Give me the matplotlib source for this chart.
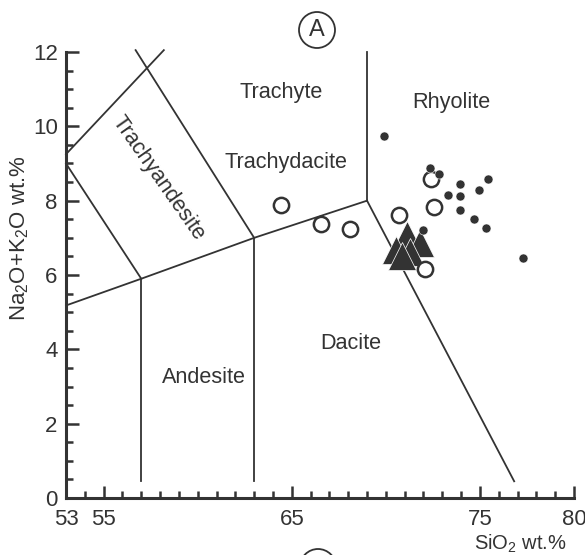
import matplotlib
matplotlib.use("Agg")
import matplotlib.pyplot as plt
from matplotlib.patches import Ellipse
from matplotlib.ticker import MultipleLocator, FixedLocator

plt.rcParams['font.family'] = ['Liberation Sans', 'DejaVu Sans']
plt.rcParams['mathtext.fontset'] = 'custom'
plt.rcParams['mathtext.rm'] = 'Liberation Sans'
plt.rcParams['mathtext.it'] = 'Liberation Sans:italic'

INK = '#333333'

# TAS field boundaries (SiO2, Na2O+K2O)
boundaries = [
    ([57, 57], [0.45, 5.9]),
    ([63, 63], [0.45, 7.0]),
    ([53, 57, 63, 69], [5.18, 5.9, 7.0, 8.0]),
    ([69, 76.82], [8.0, 0.45]),
    ([69, 69], [8.0, 12.0]),
    ([63, 56.7], [7.0, 12.05]),
    ([57, 53], [5.9, 9.0]),
    ([53, 58.2], [9.25, 12.05]),
]

# field names
field_names = ['Trachyte', 'Trachydacite', 'Rhyolite', 'Dacite', 'Andesite', 'Trachyandesite']
field_x = [64.45, 64.7, 73.5, 68.15, 60.35, 57.9]
field_y = [10.9, 9.03, 10.65, 4.17, 3.25, 8.6]
field_rot = [0, 0, 0, 0, 0, -55]

# samples
open_x = [64.42, 66.56, 68.07, 70.71, 72.54, 72.40, 72.10]
open_y = [7.88, 7.36, 7.25, 7.61, 7.83, 8.57, 6.17]

dot_x = [69.91, 72.33, 72.84, 73.96, 75.43, 74.97, 73.32, 73.96, 73.96, 74.67, 75.34, 71.95, 77.29]
dot_y = [9.73, 8.89, 8.73, 8.46, 8.58, 8.30, 8.15, 8.12, 7.74, 7.50, 7.27, 7.22, 6.47]

tri_x = [71.12, 71.79, 70.55, 71.30, 70.86]
tri_y = [7.08, 6.86, 6.68, 6.61, 6.52]

x_ticks_major = [53, 55, 65, 75, 80]

fig = plt.figure(figsize=(5.85, 5.55), dpi=100)
ax = fig.add_axes([66 / 585, 57 / 555, 508 / 585, 446 / 555])

for bx, by in boundaries:
    ax.plot(bx, by, color=INK, lw=1.3, clip_on=False, zorder=2)

for name, x, y, r in zip(field_names, field_x, field_y, field_rot):
    ax.text(x, y, name, ha='center', va='center', rotation=r,
            fontsize=15.6, color=INK, rotation_mode='anchor')

ax.plot(open_x, open_y, 'o', ms=11, mfc='white', mec=INK, mew=1.8, zorder=4)
ax.plot(dot_x, dot_y, 'o', ms=6.5, color=INK, mec='white', mew=0.4, zorder=5)
ax.plot(tri_x, tri_y, '^', ms=19.5, color=INK, mec='white', mew=0.5, zorder=3)

ax.set_xlim(53, 80)
ax.set_ylim(0, 12)
ax.spines['top'].set_visible(False)
ax.spines['right'].set_visible(False)
for s in ('left', 'bottom'):
    ax.spines[s].set_linewidth(2.2)
    ax.spines[s].set_color(INK)

ax.xaxis.set_major_locator(FixedLocator(x_ticks_major))
ax.xaxis.set_minor_locator(MultipleLocator(1))
ax.yaxis.set_major_locator(MultipleLocator(2))
ax.yaxis.set_minor_locator(MultipleLocator(0.5))
ax.tick_params(which='both', direction='in', color=INK, width=1.8,
               labelsize=16, labelcolor=INK)
ax.tick_params(which='major', length=9)
ax.tick_params(which='minor', length=5)
ax.tick_params(axis='x', pad=8)
ax.tick_params(axis='y', pad=6)

fig.text(20 / 585, 1 - 238 / 555, r'Na$_\mathrm{2}$O+K$_\mathrm{2}$O wt.%',
         rotation=90, ha='center', va='center', fontsize=16, color=INK)
fig.text(520 / 585, 1 - 544 / 555, r'SiO$_\mathrm{2}$ wt.%',
         ha='center', va='center', fontsize=14.5, color=INK)

# panel tags
fig.add_artist(Ellipse((317 / 585, 1 - 30 / 555), 36 / 585, 36 / 555,
                       transform=fig.transFigure, fc='none', ec=INK, lw=1.3))
fig.text(317 / 585, 1 - 30 / 555, 'A', ha='center', va='center',
         fontsize=17, color=INK)
fig.add_artist(Ellipse((318 / 585, 1 - 567 / 555), 36 / 585, 36 / 555,
                       transform=fig.transFigure, fc='none', ec=INK, lw=1.3))

fig.savefig('out.png', dpi=100, facecolor='white')
